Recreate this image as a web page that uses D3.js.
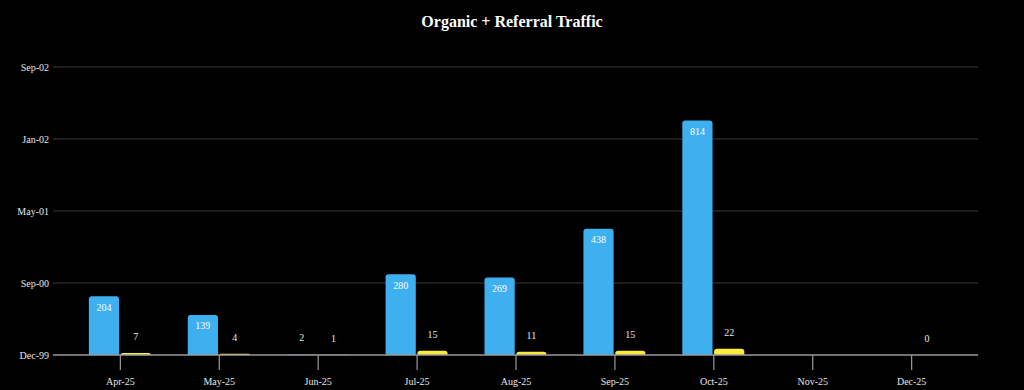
<!DOCTYPE html>
<html><head><meta charset="utf-8">
<script src="https://cdn.jsdelivr.net/npm/d3@7/dist/d3.min.js"></script>
<style>html,body{margin:0;padding:0;background:#000;}svg{display:block;}</style>
</head><body>
<svg id="chart" width="1024" height="390"></svg>
<script>
const categories = ["Apr-25","May-25","Jun-25","Jul-25","Aug-25","Sep-25","Oct-25","Nov-25","Dec-25"];
const organic = [204, 139, 2, 280, 269, 438, 814, null, null];
const referral = [7, 4, 1, 15, 11, 15, 22, null, 0];
const seriesNames = ["Organic", "Referral"];
const yTickValues = [0, 250, 500, 750, 1000];
const yTickLabels = ["Dec-99", "Sep-00", "May-01", "Jan-02", "Sep-02"];
const title = "Organic + Referral Traffic";

const svg = d3.select("#chart");
const W = 1024, H = 390;
const plotLeft = 53, plotRight = 978, plotTop = 67, plotBottom = 355;
const font = "'Liberation Serif', 'DejaVu Serif', serif";
const colors = {Organic: "#3eb0f0", Referral: "#fbec3c"};

svg.append("rect").attr("width", W).attr("height", H).attr("fill", "#000");

const x = d3.scalePoint().domain(categories).range([plotLeft, plotRight]).padding(0.676);
const y = d3.scaleLinear().domain([0, 1000]).range([plotBottom, plotTop]);
const sub = d3.scaleBand().domain(seriesNames).range([-31, 31]).paddingInner(0.05);

// gridlines
svg.append("g").selectAll("line").data(yTickValues.filter(v => v !== 0)).join("line")
  .attr("x1", plotLeft).attr("x2", plotRight)
  .attr("y1", d => y(d)).attr("y2", d => y(d))
  .attr("stroke", "#3a3a3a").attr("stroke-width", 1);

// y axis labels
const yAxis = d3.axisLeft(y).tickValues(yTickValues)
  .tickFormat((d, i) => yTickLabels[i]).tickSize(0).tickPadding(4);
const gy = svg.append("g").attr("transform", `translate(${plotLeft},0)`).call(yAxis);
gy.select(".domain").remove();
gy.selectAll("text").attr("fill", "#e6e6e6").attr("font-family", font).attr("font-size", 10);

// rounded-top bar path
function barPath(x0, w, y0, y1, r) {
  const h = y1 - y0;
  r = Math.min(r, h, w / 2);
  return `M${x0},${y1}V${y0 + r}Q${x0},${y0} ${x0 + r},${y0}H${x0 + w - r}Q${x0 + w},${y0} ${x0 + w},${y0 + r}V${y1}Z`;
}

const rows = [];
categories.forEach((c, i) => {
  rows.push({cat: c, s: "Organic", v: organic[i]});
  rows.push({cat: c, s: "Referral", v: referral[i]});
});

const g = svg.append("g");
g.selectAll("path").data(rows.filter(d => d.v !== null)).join("path")
  .attr("d", d => {
    const x0 = x(d.cat) + sub(d.s);
    return barPath(x0, sub.bandwidth(), y(d.v), y(0), 3);
  })
  .attr("fill", d => colors[d.s]);

// baseline axis
const xAxis = d3.axisBottom(x).tickSize(15).tickPadding(8);
const gx = svg.append("g").attr("transform", `translate(0,${plotBottom})`).call(xAxis);
gx.select(".domain").remove();
gx.append("line").attr("x1", plotLeft).attr("x2", plotRight).attr("y1", 0).attr("y2", 0)
  .attr("stroke", "#9a9a9a").attr("stroke-width", 1.5);
gx.selectAll(".tick line").attr("stroke", "#9a9a9a").attr("stroke-width", 1.2);
gx.selectAll("text").attr("fill", "#e6e6e6").attr("font-family", font).attr("font-size", 10);

// value labels
g.selectAll("text").data(rows.filter(d => d.v !== null)).join("text")
  .attr("x", d => x(d.cat) + sub(d.s) + sub.bandwidth() / 2)
  .attr("y", d => {
    const h = y(0) - y(d.v);
    return h > 25 ? y(d.v) + 11 : y(d.v) - 16.5;
  })
  .attr("dy", "0.35em")
  .attr("text-anchor", "middle")
  .attr("fill", d => (y(0) - y(d.v)) > 25 ? "#ffffff" : "#e6e6e6")
  .attr("font-family", font).attr("font-size", 10)
  .text(d => d.v);

// title
svg.append("text").attr("x", 512).attr("y", 27).attr("text-anchor", "middle")
  .attr("fill", "#ffffff").attr("font-family", font).attr("font-weight", "bold")
  .attr("font-size", 16).text(title);
</script>
</body></html>
